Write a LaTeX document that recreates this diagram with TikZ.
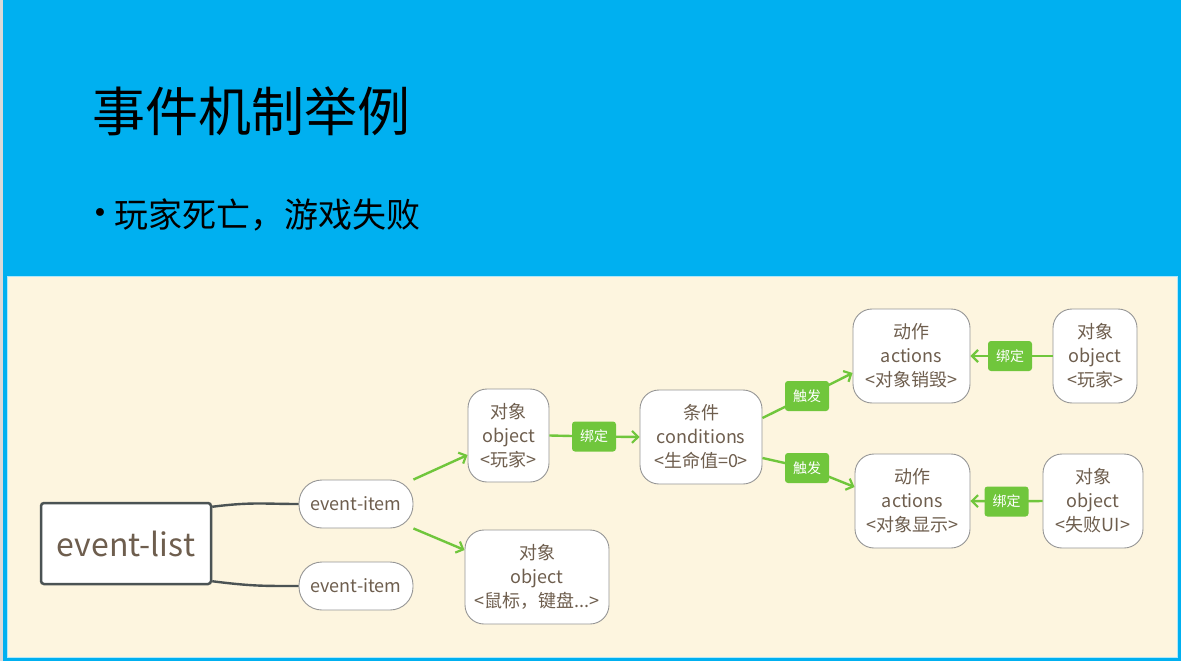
\documentclass[tikz,border=0pt]{standalone}
\usepackage{fontspec}
\setmainfont{Noto Sans CJK SC}
\newfontfamily\dejavu{DejaVu Sans}
\usetikzlibrary{arrows.meta,calc}
\definecolor{slideblue}{RGB}{0,176,240}
\definecolor{beige}{RGB}{253,245,223}
\definecolor{txtbrown}{RGB}{110,94,78}
\definecolor{boxgray}{RGB}{150,150,150}
\definecolor{darkline}{RGB}{75,83,84}
\definecolor{lgreen}{RGB}{112,198,60}
\tikzset{
  box/.style={draw=boxgray, line width=0.9pt, fill=white, rounded corners=19pt, inner sep=0pt,
    align=center, text=txtbrown, font=\fontsize{18}{24}\selectfont},
  pill/.style={box, rounded corners=23pt, minimum width=114pt, minimum height=48pt},
  tag/.style={fill=lgreen, rounded corners=3pt, text=white, inner sep=0pt,
    minimum width=44pt, minimum height=30pt, font=\fontsize{14}{15}\selectfont},
  garrow/.style={draw=lgreen, line width=2.4pt, -{Straight Barb[length=6pt,width=12pt,line width=2.2pt]}},
  gline/.style={draw=lgreen, line width=2.4pt},
  dline/.style={draw=darkline, line width=2.4pt}
}
\begin{document}
\begin{tikzpicture}[x=1pt,y=-1pt]
\useasboundingbox (0,0) rectangle (1181,661);
% background
\fill[slideblue] (0,0) rectangle (1181,661);
\fill[black!15] (0,0) rectangle (3,661);
\fill[beige] (7,276) rectangle (1177,657);
\draw[white!70!slideblue, line width=0.8pt] (7,276) rectangle (1177,657);
% title
\node[anchor=west, inner sep=0pt, font=\fontsize{53}{60}\selectfont] (title) at (92,111) {事件机制举例};
\node[inner sep=0pt, font=\dejavu\fontsize{27}{30}\selectfont] (bullet) at (100,216) {•};
\node[anchor=west, inner sep=0pt, font=\fontsize{34}{40}\selectfont] (sub) at (114,215) {玩家死亡，游戏失败};
% nodes
\node[draw=darkline, line width=2.5pt, fill=white, rounded corners=3pt, minimum width=170pt, minimum height=81pt,
  inner sep=0pt, text=txtbrown, font=\fontsize{32}{38}\selectfont] (elist) at (126,543.5) {event-list};
\node[pill] (ei1) at (356,504) {event-item};
\node[pill] (ei2) at (356,586) {event-item};
\node[box, minimum width=81pt, minimum height=93pt] (o1) at (508.5,435.5) {对象\\object\\<玩家>};
\node[box, minimum width=144pt, minimum height=94pt] (o2) at (537,577) {对象\\object\\<鼠标，键盘...>};
\node[box, minimum width=122pt, minimum height=94pt] (cond) at (701,437) {条件\\conditions\\<生命值=0>};
\node[box, minimum width=117pt, minimum height=94pt] (a1) at (911.5,356) {动作\\actions\\<对象销毁>};
\node[box, minimum width=115pt, minimum height=94pt] (a2) at (912.5,501) {动作\\actions\\<对象显示>};
\node[box, minimum width=84pt, minimum height=94pt] (o3) at (1095,356) {对象\\object\\<玩家>};
\node[box, minimum width=100pt, minimum height=94pt] (o4) at (1093,501) {对象\\object\\<失败UI>};
% tag positions
\coordinate (b1) at (594,436.5);
\coordinate (t1) at (807,396);
\coordinate (t2) at (807,468);
\coordinate (b2) at (1010,356);
\coordinate (b3) at (1006.5,501.5);
% connectors
\draw[dline] ($(elist.north east)+(0,5)$) .. controls +(40,-5) and +(-35,0) .. (ei1.west);
\draw[dline] ($(elist.south east)+(0,-4)$) .. controls +(40,5) and +(-35,0) .. (ei2.west);
\draw[garrow] (ei1.north east) -- ($(o1.west)+(0,19.5)$);
\draw[garrow] (ei1.south east) -- ($(o2.west)+(0,-27)$);
\draw[gline] (o1.east) -- (b1);
\draw[garrow] (b1) -- (cond.west);
\draw[gline] ($(cond.east)+(0,-19)$) -- (t1);
\draw[garrow] (t1) -- ($(a1.west)+(0,17)$);
\draw[gline] ($(cond.east)+(0,21)$) -- (t2);
\draw[garrow] (t2) -- ($(a2.west)+(0,-14)$);
\draw[gline] (o3.west) -- (b2);
\draw[garrow] (b2) -- (a1.east);
\draw[gline] (o4.west) -- (b3);
\draw[garrow] (b3) -- (a2.east);
% tags on top
\node[tag] (tb1) at (b1) {绑定};
\node[tag] (tt1) at (t1) {触发};
\node[tag] (tt2) at (t2) {触发};
\node[tag] (tb2) at (b2) {绑定};
\node[tag] (tb3) at (b3) {绑定};
\end{tikzpicture}
\end{document}
